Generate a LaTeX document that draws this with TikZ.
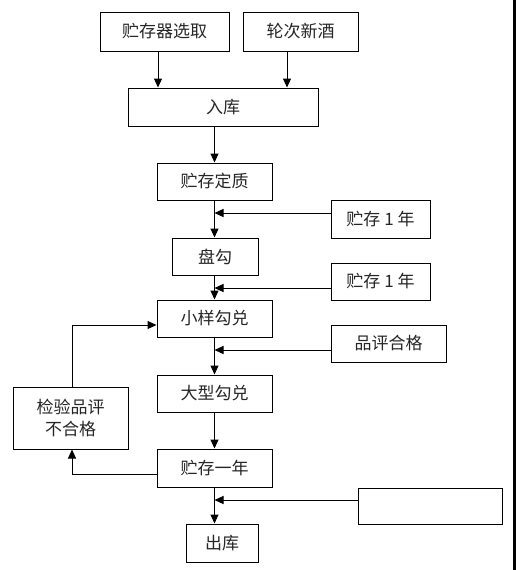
\documentclass[tikz,border=0pt]{standalone}
\usepackage{fontspec}
\setmainfont{Noto Sans CJK SC}
\usetikzlibrary{arrows.meta}
\begin{document}
\begin{tikzpicture}[x=1pt,y=1pt,
  bx/.style={draw=black,line width=1pt,inner sep=0pt,align=center,font=\fontsize{17}{22}\selectfont,text=black!85},
  arr/.style={line width=1pt,-{Triangle[width=8pt,length=9pt]}}]
\useasboundingbox (0,0) rectangle (516,-570);
\fill[white] (0,0) rectangle (516,-570);
\fill[black] (513,0) rectangle (516,-570);
\node[bx,minimum width=129pt,minimum height=39pt] (n1) at (164.5,-31.5) {贮存器选取};
\node[bx,minimum width=115pt,minimum height=39pt] (n2) at (300.5,-31.5) {轮次新酒};
\node[bx,minimum width=190pt,minimum height=38pt] (n3) at (223,-107) {入库};
\node[bx,minimum width=115pt,minimum height=37pt] (n4) at (214.5,-181.5) {贮存定质};
\node[bx,minimum width=86pt,minimum height=37pt] (n5) at (215,-256.5) {盘勾};
\node[bx,minimum width=115pt,minimum height=37pt] (n6) at (214.5,-318.5) {小样勾兑};
\node[bx,minimum width=115pt,minimum height=37pt] (n7) at (214.5,-393.5) {大型勾兑};
\node[bx,minimum width=115pt,minimum height=38pt] (n8) at (214.5,-468) {贮存一年};
\node[bx,minimum width=72pt,minimum height=38pt] (n9) at (222,-543) {出库};
\node[bx,minimum width=99pt,minimum height=38pt] (s1) at (380.5,-219) {贮存 1 年};
\node[bx,minimum width=99pt,minimum height=37pt] (s2) at (380.5,-281.5) {贮存 1 年};
\node[bx,minimum width=115pt,minimum height=37pt] (s3) at (388.5,-343.5) {品评合格};
\node[bx,minimum width=144pt,minimum height=36pt] (s4) at (430,-506) {};
\node[bx,minimum width=115pt,minimum height=62pt] (f) at (70.5,-418) {检验品评\\不合格};
% top arrows
\draw[arr] ([xshift=-6.5pt]n1.south) -- ([xshift=-6.5pt]n1.south |- n3.north);
\draw[arr] ([xshift=-13.5pt]n2.south) -- ([xshift=-13.5pt]n2.south |- n3.north);
% main axis
\draw[arr] (n3.south -| n4.north) -- (n4.north);
\draw[arr] (n4.south) -- (n5.north -| n4.south);
\draw[arr] (n5.south -| n6.north) -- (n6.north);
\draw[arr] (n6.south) -- (n7.north);
\draw[arr] (n7.south) -- (n8.north);
\draw[arr] (n8.south -| n9.north -| n8.south) -- (n9.north -| n8.south);
% side inputs
\draw[arr] ([yshift=6pt]s1.west) -- ([yshift=6pt]s1.west -| n4.south);
\draw[arr] ([yshift=-6.5pt]s2.west) -- ([yshift=-6.5pt]s2.west -| n4.south);
\draw[arr] ([yshift=-6.5pt]s3.west) -- ([yshift=-6.5pt]s3.west -| n4.south);
\draw[arr] ([yshift=6pt]s4.west) -- ([yshift=6pt]s4.west -| n4.south);
% feedback loop
\draw[arr] ([yshift=-6pt]n8.west) -| ([xshift=1.5pt]f.south);
\draw[arr] ([xshift=1.5pt]f.north) |- ([yshift=-6.5pt]n6.west);
\end{tikzpicture}
\end{document}
